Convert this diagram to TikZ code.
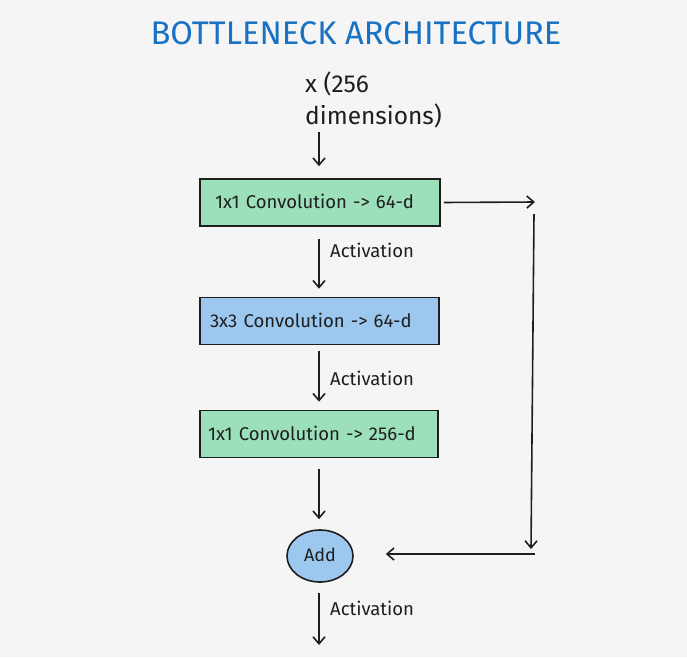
\documentclass[tikz,border=0pt]{standalone}
\usepackage{fontspec}
\setmainfont{Fira Sans}
\usetikzlibrary{arrows.meta,shapes.geometric}
\definecolor{bg}{HTML}{F5F5F5}
\definecolor{gfill}{HTML}{9BE0BA}
\definecolor{bfill}{HTML}{9CC8EF}
\definecolor{ink}{HTML}{1E1E1E}
\definecolor{titleblue}{HTML}{1971C2}
\begin{document}
\begin{tikzpicture}[x=1pt,y=-1pt,
  box/.style={draw=ink, line width=1.6pt, minimum height=47pt, align=left,
    font=\fontsize{18.5}{22}\selectfont, text=ink},
  arr/.style={draw=ink, line width=1.6pt, -{Straight Barb[length=7pt,width=12pt,line width=1.6pt]}},
  lbl/.style={anchor=west, inner sep=0pt, font=\fontsize{18.5}{22}\selectfont, text=ink}]
\fill[bg] (0,0) rectangle (687,657);
\useasboundingbox (0,0) rectangle (687,657);

\node[text=titleblue, font=\fontsize{32.7}{38}\selectfont] (title) at (356,33) {BOTTLENECK ARCHITECTURE};
\node[anchor=north west, inner sep=0pt, align=left, text=ink, font=\fontsize{24.5}{32}\selectfont] (xin) at (305,72) {x (256\\dimensions)};

\node[box, fill=gfill, minimum width=240pt, text width=210pt, inner xsep=15pt] (b1) at (320,202.5) {\raisebox{3pt}{1x1 Convolution -> 64-d}};
\node[box, fill=bfill, minimum width=239pt, text width=219pt, inner xsep=10pt] (b2) at (319.5,321) {\raisebox{2pt}{3x3 Convolution -> 64-d}};
\node[box, fill=gfill, minimum width=238pt, text width=222pt, inner xsep=8pt] (b3) at (319,434) {\raisebox{1pt}{1x1 Convolution -> 256-d}};
\node[ellipse, draw=ink, line width=1.6pt, fill=bfill, minimum width=66pt, minimum height=52pt, inner sep=0pt,
  font=\fontsize{18}{22}\selectfont, text=ink] (add) at (320,556) {\raisebox{3pt}{Add}};

\coordinate (s1) at (535,202);
\coordinate (s2) at (534,214);
\coordinate (s3) at (531,549);
\coordinate (s4) at (535,554);
\coordinate (out) at (319,645);

\draw[arr] (319,132) -- ([yshift=12pt]b1.north -| 319,0);
\draw[arr, shorten <=12pt, shorten >=8pt] (b1.south -| 319,0) -- (b2.north -| 319,0);
\draw[arr, shorten <=6pt, shorten >=8pt] (b2.south -| 319,0) -- (b3.north -| 319,0);
\draw[arr, shorten <=11pt, shorten >=10pt] (b3.south -| 319,0) -- (add.north -| 319,0);
\draw[arr, shorten <=10pt] (add.south -| 319,0) -- (out);

\node[lbl] (a1) at (330,250) {Activation};
\node[lbl] (a2) at (330,378) {Activation};
\node[lbl] (a3) at (330,608) {Activation};

\draw[arr, shorten <=3pt] (b1.east) -- (s1);
\draw[arr] (s2) -- (s3);
\draw[arr, shorten >=32pt] (s4) -- (add.east |- s4);
\end{tikzpicture}
\end{document}
